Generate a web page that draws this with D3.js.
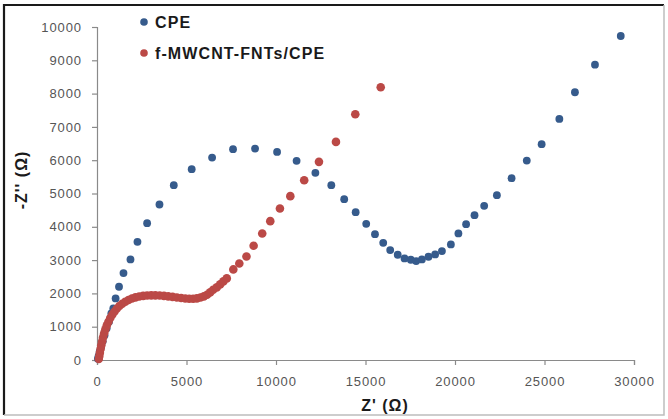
<!DOCTYPE html>
<html>
<head>
<meta charset="utf-8">
<script src="https://cdn.jsdelivr.net/npm/d3@7/dist/d3.min.js"></script>
<style>
  html, body { margin: 0; padding: 0; background: #fff; }
  svg { display: block; }
</style>
</head>
<body>
<svg id="chart" width="668" height="419"></svg>
<script>
// Nyquist plot: Z' (real) vs -Z'' (imaginary), both in ohms
const seriesNames = ["CPE", "f-MWCNT-FNTs/CPE"];
const seriesColors = ["#365b8c", "#bb4946"];

// Bare carbon paste electrode
const cpeZre = [50, 90, 150, 230, 320, 420, 540, 670, 800, 910, 1040, 1230, 1480, 1870, 2260, 2800, 3490, 4290, 5290, 6430, 7600, 8830, 10060, 11150, 12200, 13090, 13810, 14450, 15040, 15530, 15990, 16380, 16800, 17180, 17530, 17830, 18150, 18520, 18890, 19270, 19770, 20190, 20620, 21090, 21630, 22340, 23160, 24010, 24840, 25830, 26700, 27820, 29260];
const cpeZim = [40, 120, 250, 400, 560, 740, 950, 1150, 1400, 1550, 1850, 2200, 2610, 3020, 3550, 4110, 4670, 5250, 5730, 6080, 6330, 6350, 6250, 5980, 5620, 5250, 4830, 4440, 4090, 3780, 3520, 3300, 3160, 3050, 3010, 2970, 3020, 3100, 3170, 3270, 3470, 3800, 4080, 4350, 4630, 4950, 5460, 5990, 6480, 7240, 8040, 8870, 9730];

// Modified electrode
const modZre = [100, 130, 160, 200, 240, 290, 340, 400, 470, 550, 640, 740, 850, 970, 1100, 1250, 1410, 1580, 1760, 1950, 2150, 2360, 2580, 2800, 3030, 3260, 3500, 3740, 3980, 4220, 4460, 4700, 4930, 5150, 5370, 5580, 5780, 5970, 6150, 6320, 6490, 6690, 6880, 7060, 7250, 7615, 7950, 8350, 8750, 9230, 9680, 10220, 10800, 11575, 12400, 13350, 14430, 15850];
const modZim = [30, 120, 220, 330, 440, 560, 680, 800, 920, 1040, 1150, 1260, 1360, 1450, 1540, 1620, 1690, 1750, 1800, 1845, 1880, 1905, 1925, 1935, 1940, 1940, 1935, 1925, 1910, 1895, 1875, 1860, 1845, 1840, 1840, 1850, 1875, 1910, 1960, 2030, 2110, 2180, 2270, 2360, 2450, 2720, 2900, 3110, 3430, 3800, 4170, 4550, 4920, 5400, 5950, 6550, 7380, 8190];

const xTicks = [0, 5000, 10000, 15000, 20000, 25000, 30000];
const yTicks = [0, 1000, 2000, 3000, 4000, 5000, 6000, 7000, 8000, 9000, 10000];
const xTitle = "Z' (\u03A9)";
const yTitle = "-Z'' (\u03A9)";

const svg = d3.select("#chart");

// Picture frame
svg.append("rect").attr("x", 0).attr("y", 0).attr("width", 668).attr("height", 419).attr("fill", "#fff");
svg.append("path").attr("d", "M4,415 L4,5 L664,5").attr("fill", "none").attr("stroke", "#1a1a1a").attr("stroke-width", 2.2);
svg.append("path").attr("d", "M664,5 L664,415 L4,415").attr("fill", "none").attr("stroke", "#bdbdbd").attr("stroke-width", 1.5);

const x = d3.scaleLinear().domain([0, 30000]).range([97, 634]);
const y = d3.scaleLinear().domain([0, 10000]).range([360, 27]);

const axisColor = "#8a8a8a";
const tickText = "#555";
const font = "'Liberation Sans', Arial, sans-serif";

const gx = svg.append("g").attr("transform", `translate(0,${y(0)})`)
  .call(d3.axisBottom(x).tickValues(xTicks).tickSize(5).tickPadding(12).tickFormat(d => d));
const gy = svg.append("g").attr("transform", `translate(${x(0)},0)`)
  .call(d3.axisLeft(y).tickValues(yTicks).tickSize(5).tickPadding(10).tickFormat(d => d));

[gx, gy].forEach(g => {
  g.select(".domain").attr("stroke", axisColor).attr("stroke-width", 1.2);
  g.selectAll(".tick line").attr("stroke", axisColor).attr("stroke-width", 1.2);
  g.selectAll(".tick text").attr("fill", tickText).attr("font-family", font)
    .attr("font-size", 13).attr("letter-spacing", 0.9);
});

// Axis titles
svg.append("text").attr("x", 385).attr("y", 411).attr("text-anchor", "middle")
  .attr("font-family", font).attr("font-weight", "bold").attr("font-size", 16)
  .attr("letter-spacing", 1).attr("fill", "#1a1a1a").text(xTitle);
svg.append("text").attr("transform", "translate(27,180) rotate(-90)").attr("text-anchor", "middle")
  .attr("font-family", font).attr("font-weight", "bold").attr("font-size", 16)
  .attr("letter-spacing", 1).attr("fill", "#1a1a1a").text(yTitle);

// Data markers
const series = [
  { name: seriesNames[0], color: seriesColors[0], xs: cpeZre, ys: cpeZim, r: 3.9 },
  { name: seriesNames[1], color: seriesColors[1], xs: modZre, ys: modZim, r: 4.3 }
];

series.forEach(s => {
  svg.append("g").selectAll("circle")
    .data(s.xs.map((v, i) => [v, s.ys[i]]))
    .join("circle")
    .attr("cx", d => x(d[0]))
    .attr("cy", d => y(d[1]))
    .attr("r", s.r)
    .attr("fill", s.color);
});

// Legend
const legend = svg.append("g");
series.forEach((s, i) => {
  const ly = 22 + i * 31;
  legend.append("circle").attr("cx", 144).attr("cy", ly).attr("r", 3.8).attr("fill", s.color);
  legend.append("text").attr("x", 155).attr("y", ly + 6)
    .attr("font-family", font).attr("font-weight", "bold").attr("font-size", 16)
    .attr("letter-spacing", 1.1).attr("fill", "#1a1a1a").text(s.name);
});
</script>
</body>
</html>
